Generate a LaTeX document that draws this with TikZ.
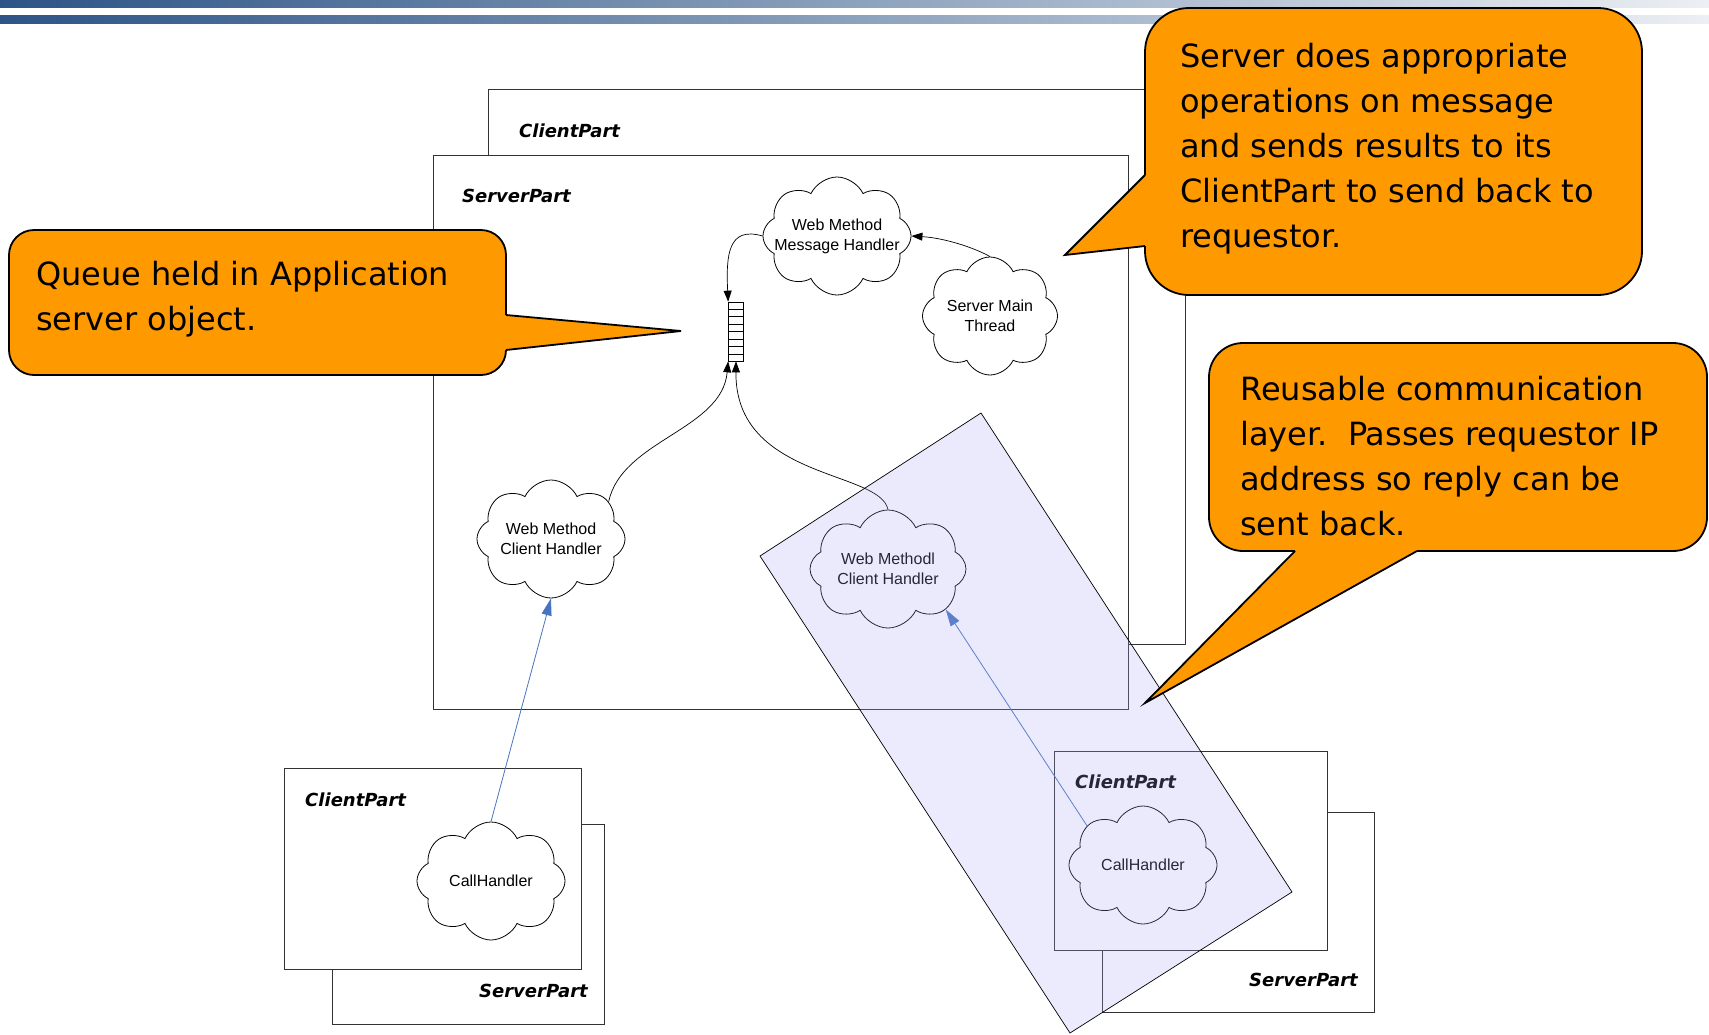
\documentclass[tikz,border=0pt]{standalone}
\usepackage{fontspec}
\usetikzlibrary{shapes.symbols,arrows.meta,calc}
\newfontfamily\cloudfont{Liberation Sans}
\newfontfamily\partfont{DejaVu Sans Bold Oblique}
\newfontfamily\callfont{DejaVu Sans}
\definecolor{calloutorange}{RGB}{255,153,0}
\definecolor{layerblue}{RGB}{168,168,245}
\definecolor{linkblue}{RGB}{70,117,192}
\definecolor{hdrdark}{RGB}{44,84,134}
\definecolor{hdrlight}{RGB}{236,239,243}

\begin{document}
\begin{tikzpicture}[
    x=1pt, y=-1pt,
    % Styles
    part/.style={draw=black!80, fill=white, line width=0.8pt},
    partlabel/.style={font=\partfont\fontsize{18}{22}\selectfont, anchor=base west, inner sep=0},
    handler/.style={
      cloud, cloud puffs=8, cloud puff arc=130, cloud ignores aspect,
      draw=black, fill=white, line width=0.8pt,
      minimum width=148, minimum height=118, inner sep=0,
    },
    cloudtext/.style={font=\cloudfont\fontsize{16}{20}\selectfont, align=center, inner sep=0},
    conn/.style={-{Triangle[length=11pt,width=8pt]}, line width=0.7pt},
    bluelink/.style={-{Triangle[length=17pt,width=10pt]}, draw=linkblue, line width=0.8pt},
    balloon/.style={fill=calloutorange, draw=black, line width=1.8pt},
    balloontext/.style={font=\callfont\fontsize{32}{45}\selectfont, align=left, anchor=north west, inner sep=0},
  ]
  \useasboundingbox (0,0) rectangle (1709,1034);
  % header stripes
  \shade[left color=hdrdark, right color=hdrlight] (0,0) rectangle (1709,7);
  \shade[left color=hdrdark, right color=hdrlight] (0,15) rectangle (1709,23);

  % application server
  \path[part] (488,89) rectangle (1185,644);
  \node[partlabel] (cpsrv) at (519,137) {ClientPart};
  \path[part] (433,155) rectangle (1128,709);
  \node[partlabel] (spsrv) at (462,202) {ServerPart};

  \node[handler] (mh) at (837,236) {};
  \node[cloudtext] (mhtxt) at (mh) {Web Method\\Message Handler};
  \node[handler, minimum width=135] (smt) at (990,316) {};
  \node[cloudtext] (smttxt) at (smt) {Server Main\\Thread};
  \node[handler] (wcl) at (551,539) {};
  \node[cloudtext] (wcltxt) at (wcl) {Web Method\\Client Handler};
  \node[handler, minimum width=156] (wcr) at (888,569) {};
  \node[cloudtext] (wcrtxt) at (wcr) {Web Methodl\\Client Handler};

  % queue
  \node[draw, fill=white, minimum width=15, minimum height=59, inner sep=0, line width=0.7pt] (q) at (736,331.5) {};
  \foreach \i in {1,...,7}
    \draw[line width=0.6pt] ($(q.north west)!\i/8!(q.south west)$) -- ($(q.north east)!\i/8!(q.south east)$);

  \draw[conn] (mh.west) .. controls (728,226) and (726,255) .. (q.north west);
  \draw[conn] (smt.north) .. controls (975,248) and (945,238) .. (mh.east);
  \draw[conn] (wcl.33) .. controls (622,440) and (722,430) .. (q.south west);
  \draw[conn] (wcr.north) .. controls (880,470) and (735,480) .. (q.south);

  % requestor, left
  \path[part] (332,824) rectangle (604,1024);
  \path[part] (284,768) rectangle (581,969);
  \node[partlabel] (cpl) at (305,806) {ClientPart};
  \node[partlabel] (spl) at (479,997) {ServerPart};
  \node[handler] (chl) at (491,881) {};
  \node[cloudtext] (chltxt) at (chl) {CallHandler};
  \draw[bluelink] (chl.north) -- (wcl.south);

  % requestor, right
  \path[part] (1102,812) rectangle (1374,1012);
  \path[part] (1054,751) rectangle (1327,950);
  \node[partlabel] (cpr) at (1075,788) {ClientPart};
  \node[partlabel] (spr) at (1249,986) {ServerPart};
  \node[handler] (chr) at (1143,865) {};
  \node[cloudtext] (chrtxt) at (chr) {CallHandler};
  \draw[bluelink] (chr.145) -- (wcr.-35);

  % communication layer
  \filldraw[fill=layerblue, fill opacity=0.23, draw=black, line width=0.7pt]
    (981,413) -- (1292,892) -- (1070,1033) -- (760,556) -- cycle;

  % callouts
  \coordinate (qtip) at (681,331);
  \filldraw[balloon, rounded corners=25pt] (9,230) rectangle (506,375);
  \fill[calloutorange] (502,315) -- (506,315) -- (qtip) -- (506,350) -- (502,350) -- cycle;
  \draw[balloon, fill=none] (506,315) -- (qtip) -- (506,350);
  \node[balloontext] (qnote) at (36,261) {Queue held in Application\\server object.};

  \coordinate (stip) at (1065,255);
  \filldraw[balloon, rounded corners=44pt] (1145,8) rectangle (1642,295);
  \fill[calloutorange] (1149,175) -- (1145,175) -- (stip) -- (1145,246) -- (1149,246) -- cycle;
  \draw[balloon, fill=none] (1145,175) -- (stip) -- (1145,246);
  \node[balloontext] (snote) at (1180,43) {Server does appropriate\\operations on message\\and sends results to its\\ClientPart to send back to\\requestor.};

  \coordinate (ltip) at (1145,703);
  \filldraw[balloon, rounded corners=34pt] (1209,343) rectangle (1707,551);
  \fill[calloutorange] (1295,547) -- (1295,551) -- (ltip) -- (1417,551) -- (1417,547) -- cycle;
  \draw[balloon, fill=none] (1295,551) -- (ltip) -- (1417,551);
  \node[balloontext] (lnote) at (1240,376) {Reusable communication\\layer.\ \ Passes requestor IP\\address so reply can be\\sent back.};
\end{tikzpicture}
\end{document}
